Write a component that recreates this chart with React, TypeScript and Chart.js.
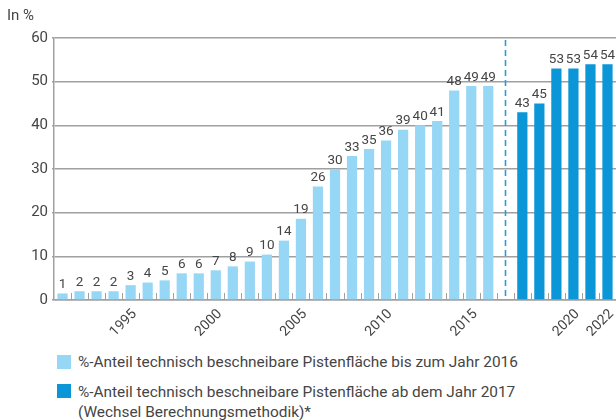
import React, { useEffect, useRef } from 'react';
import { Chart, registerables } from 'chart.js';

Chart.register(...registerables);

// Categories: 1991–2016, an empty gap slot (method change), 2017–2022
const yearsOld = ['1991','1992','1993','1994','1995','1996','1997','1998','1999','2000','2001','2002','2003','2004','2005','2006','2007','2008','2009','2010','2011','2012','2013','2014','2015','2016'];
const yearsNew = ['2017','2018','2019','2020','2021','2022'];
const shownTicks = ['1995','2000','2005','2010','2015','2020','2022'];

// Bar heights (in %)
const oldValues = [1.5, 2, 2, 2, 3.4, 4, 4.5, 6.1, 6.1, 6.8, 7.7, 8.8, 10.4, 13.6, 18.6, 26, 30, 33, 34.6, 36.5, 39, 40, 41, 48, 49, 49];
const newValues = [43, 45, 53, 53, 54, 54];
// Printed value labels
const oldLabels = ['1','2','2','2','3','4','5','6','6','7','8','9','10','14','19','26','30','33','35','36','39','40','41','48','49','49'];
const newLabels = ['43','45','53','53','54','54'];

const yTicks = [0, 10, 20, 30, 40, 50, 60];

const legendOld = '%-Anteil technisch beschneibare Pistenfläche bis zum Jahr 2016';
const legendNew1 = '%-Anteil technisch beschneibare Pistenfläche ab dem Jahr 2017';
const legendNew2 = '(Wechsel Berechnungsmethodik)*';

const LIGHT = '#96d7f5';
const DARK = '#0a96d7';
const GRID = '#a0a0a0';
const TEXT = '#454545';
const FONT = 'Roboto, "Noto Sans", sans-serif';

const categories = [...yearsOld, '', ...yearsNew];
const gapIndex = yearsOld.length;
const oldData = [...oldValues, ...Array(1 + yearsNew.length).fill(null)];
const newData = [...Array(yearsOld.length + 1).fill(null), ...newValues];
const oldLabelArr = [...oldLabels, ...Array(1 + yearsNew.length).fill('')];
const newLabelArr = [...Array(yearsOld.length + 1).fill(''), ...newLabels];

const valueLabelPlugin = {
  id: 'valueLabels',
  afterDatasetsDraw(chart: any) {
    const ctx = chart.ctx;
    ctx.save();
    ctx.font = `13.5px ${FONT}`;
    ctx.fillStyle = TEXT;
    ctx.textAlign = 'center';
    ctx.textBaseline = 'bottom';
    chart.data.datasets.forEach((ds: any, di: number) => {
      const meta = chart.getDatasetMeta(di);
      meta.data.forEach((el: any, i: number) => {
        if (ds.data[i] == null) return;
        ctx.fillText(ds.valueLabels[i], el.x, el.y - 2);
      });
    });
    ctx.restore();
  },
};

const decorPlugin = {
  id: 'decor',
  afterDraw(chart: any) {
    const ctx = chart.ctx;
    const xs = chart.scales.x;
    const area = chart.chartArea;
    const n = categories.length;
    const step = (area.right - area.left) / n;
    ctx.save();
    // inner tick marks at category boundaries
    ctx.strokeStyle = GRID;
    ctx.lineWidth = 1;
    for (let i = 1; i < n; i++) {
      const x = Math.round(area.left + i * step) + 0.5;
      ctx.beginPath();
      ctx.moveTo(x, area.bottom - 7);
      ctx.lineTo(x, area.bottom);
      ctx.stroke();
    }
    // dashed separator in the gap slot
    const gx = Math.round(xs.getPixelForValue(gapIndex)) + 0.5;
    ctx.strokeStyle = '#1f9fdc';
    ctx.lineWidth = 1.6;
    ctx.setLineDash([6, 4]);
    ctx.beginPath();
    ctx.moveTo(gx, area.top + 2);
    ctx.lineTo(gx, area.bottom);
    ctx.stroke();
    ctx.restore();
  },
};

export default function App() {
  const ref = useRef<HTMLCanvasElement>(null);
  useEffect(() => {
    if (!ref.current) return;
    const chart = new Chart(ref.current, {
      type: 'bar',
      data: {
        labels: categories,
        datasets: [
          {
            label: legendOld,
            data: oldData as any,
            backgroundColor: LIGHT,
            barPercentage: 0.6,
            categoryPercentage: 1,
            grouped: false,
            valueLabels: oldLabelArr,
          } as any,
          {
            label: legendNew1,
            data: newData as any,
            backgroundColor: DARK,
            barPercentage: 0.6,
            categoryPercentage: 1,
            grouped: false,
            valueLabels: newLabelArr,
          } as any,
        ],
      },
      options: {
        animation: false,
        responsive: false,
        maintainAspectRatio: false,
        layout: { padding: { top: 38, left: 0, right: 0, bottom: 0 } },
        plugins: { legend: { display: false }, tooltip: { enabled: false } },
        scales: {
          x: {
            offset: true,
            grid: { display: false, drawOnChartArea: false, drawTicks: false },
            border: { display: true, color: GRID, width: 1.5 },
            ticks: {
              autoSkip: false,
              maxRotation: 45,
              minRotation: 45,
              padding: 6,
              labelOffset: 4,
              color: TEXT,
              font: { family: FONT, size: 14 },
              callback: (_v: any, i: number) => (shownTicks.includes(categories[i]) ? categories[i] : ''),
            },
            afterFit: (s: any) => {
              s.height = 40;
              s.paddingLeft = 0;
              s.paddingRight = 0;
            },
          },
          y: {
            min: 0,
            max: 60,
            afterBuildTicks: (s: any) => {
              s.ticks = yTicks.map((v) => ({ value: v }));
            },
            grid: { color: GRID, lineWidth: 1.5, drawTicks: true, tickLength: 2 },
            border: { display: true, color: GRID, width: 1.5 },
            ticks: {
              padding: 4,
              color: TEXT,
              font: { family: FONT, size: 15 },
            },
            afterFit: (s: any) => {
              s.width = 54;
            },
          },
        },
      },
      plugins: [valueLabelPlugin, decorPlugin],
    });
    return () => chart.destroy();
  }, []);

  const sq = (color: string, top: number) => (
    <div style={{ position: 'absolute', left: 57, top, width: 14, height: 14, background: color }} />
  );
  const txt = { position: 'absolute' as const, left: 78, fontFamily: FONT, fontSize: 15.4, lineHeight: '20px', color: TEXT, whiteSpace: 'nowrap' as const };

  return (
    <div style={{ position: 'absolute', left: 0, top: 0, width: 616, height: 420, background: '#fff', overflow: 'hidden' }}>
      <canvas ref={ref} width={616} height={340} style={{ position: 'absolute', left: 0, top: 0, width: 616, height: 340 }} />
      <div style={{ position: 'absolute', left: 7, top: 6, fontFamily: FONT, fontSize: 15, color: TEXT }}>In %</div>
      {sq(LIGHT, 355)}
      <div style={{ ...txt, top: 352 }}>{legendOld}</div>
      {sq(DARK, 384)}
      <div style={{ ...txt, top: 382 }}>
        {legendNew1}
        <br />
        {legendNew2}
      </div>
    </div>
  );
}
